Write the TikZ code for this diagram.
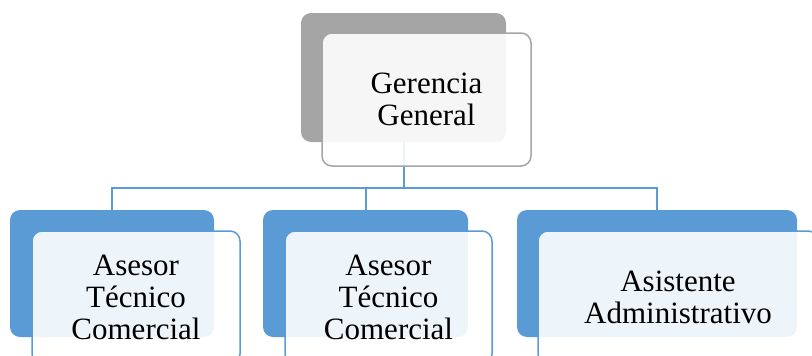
\documentclass[tikz,border=0pt]{standalone}
\usepackage{fontspec}
\setmainfont{Liberation Serif}
\definecolor{accblue}{HTML}{5B9BD5}
\definecolor{accgrey}{HTML}{A5A5A5}
\begin{document}
\begin{tikzpicture}[x=1pt,y=-1pt,
  backbox/.style={rectangle, rounded corners=10pt, draw=none, inner sep=0pt},
  frontbox/.style={rectangle, rounded corners=10pt, line width=1.5pt, fill=white, fill opacity=0.9, text opacity=1, inner sep=0pt, align=center, font=\fontsize{31}{32}\selectfont},
  conn/.style={draw=accblue, line width=2pt}]
\useasboundingbox (0,0) rectangle (812,356);
% back boxes
\node[backbox, fill=accgrey, minimum width=205pt, minimum height=129pt] (gb) at (403.5,77.5) {};
\node[backbox, fill=accblue, minimum width=204pt, minimum height=127pt] (c1b) at (112,273.5) {};
\node[backbox, fill=accblue, minimum width=205pt, minimum height=127pt] (c2b) at (365.5,273.5) {};
\node[backbox, fill=accblue, minimum width=280pt, minimum height=127pt] (c3b) at (657,273.5) {};
% connectors
\coordinate (bus) at (0,188);
\draw[conn] (gb.south) -- (gb.south |- bus) -| (c1b.north);
\draw[conn] (gb.south |- bus) -| (c2b.north);
\draw[conn] (gb.south |- bus) -| (c3b.north);
% front boxes
\node[frontbox, draw=accgrey, minimum width=209pt, minimum height=133pt] (gf) at (426.5,99.5) {Gerencia\\General};
\node[frontbox, draw=accblue, minimum width=208pt, minimum height=133pt] (c1f) at (136,297.5) {Asesor\\Técnico\\Comercial};
\node[frontbox, draw=accblue, minimum width=207pt, minimum height=133pt] (c2f) at (388.5,297.5) {Asesor\\Técnico\\Comercial};
\node[frontbox, draw=accblue, minimum width=280pt, minimum height=133pt] (c3f) at (678,297.5) {Asistente\\Administrativo};
\end{tikzpicture}
\end{document}
